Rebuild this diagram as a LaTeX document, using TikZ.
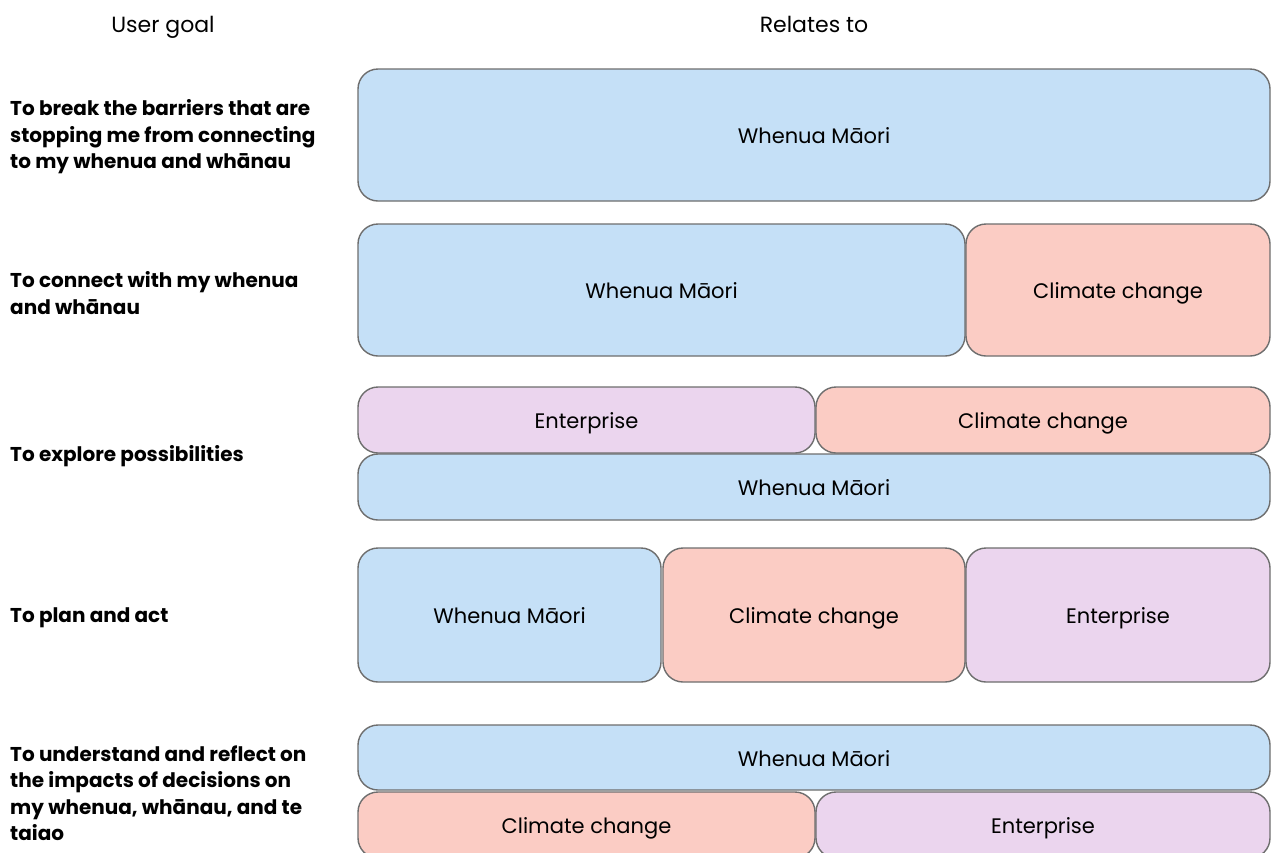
\documentclass[tikz,border=0pt]{standalone}
\usepackage{fontspec}
\setmainfont{Poppins}
\definecolor{wmblue}{HTML}{C5E0F7}
\definecolor{ccred}{HTML}{FBCCC4}
\definecolor{entpurple}{HTML}{EBD5EE}
\definecolor{boxline}{HTML}{6E6E6E}
\begin{document}
\begin{tikzpicture}[x=1pt,y=-1pt]
  \tikzstyle{area}=[rectangle,rounded corners=20pt,draw=boxline,line width=1.4pt,
    font=\fontsize{21}{25}\selectfont,inner sep=0pt,text height=19pt,text depth=2pt]
  \tikzstyle{whenua}=[area,fill=wmblue]
  \tikzstyle{climate}=[area,fill=ccred]
  \tikzstyle{enterprise}=[area,fill=entpurple]
  \tikzstyle{goal}=[anchor=west,align=left,inner sep=0pt,font=\bfseries\fontsize{20}{26.5}\selectfont]
  \tikzstyle{header}=[font=\fontsize{22}{26}\selectfont,text height=16pt,text depth=5pt]
  \clip (0,0) rectangle (1271,852);
  \fill[white] (0,0) rectangle (1271,852);

  \node[header] (H_goal) at (163,27) {User goal};
  \node[header] (H_rel) at (814,27) {Relates to};

  % row 1
  \node[goal] (G_1) at (10,137) {To break the barriers that are\\stopping me from connecting\\to my whenua and whānau};
  \node[whenua,minimum width=912,minimum height=132] (R1_w) at (814,135) {Whenua Māori};

  % row 2
  \node[goal] (G_2) at (10,293) {To connect with my whenua\\and whānau};
  \node[whenua,minimum width=607,minimum height=132] (R2_w) at (661.5,290) {Whenua Māori};
  \node[climate,minimum width=304,minimum height=132] (R2_c) at (1118,290) {Climate change};

  % row 3
  \node[goal] (G_3) at (10,456) {To explore possibilities};
  \node[enterprise,minimum width=457,minimum height=66] (R3_e) at (586.5,420) {Enterprise};
  \node[climate,minimum width=454,minimum height=66] (R3_c) at (1043,420) {Climate change};
  \node[whenua,minimum width=912,minimum height=66] (R3_w) at (814,487) {Whenua Māori};

  % row 4
  \node[goal] (G_4) at (10,618) {To plan and act};
  \node[whenua,minimum width=303,minimum height=134] (R4_w) at (509.5,615) {Whenua Māori};
  \node[climate,minimum width=302,minimum height=134] (R4_c) at (814,615) {Climate change};
  \node[enterprise,minimum width=304,minimum height=134] (R4_e) at (1118,615) {Enterprise};

  % row 5
  \node[goal] (G_5) at (10,793) {To understand and reflect on\\the impacts of decisions on\\my whenua, whānau, and te\\taiao};
  \node[whenua,minimum width=912,minimum height=65] (R5_w) at (814,757.5) {Whenua Māori};
  \node[climate,minimum width=457,minimum height=66] (R5_c) at (586.5,825) {Climate change};
  \node[enterprise,minimum width=454,minimum height=66] (R5_e) at (1043,825) {Enterprise};

\end{tikzpicture}
\end{document}
